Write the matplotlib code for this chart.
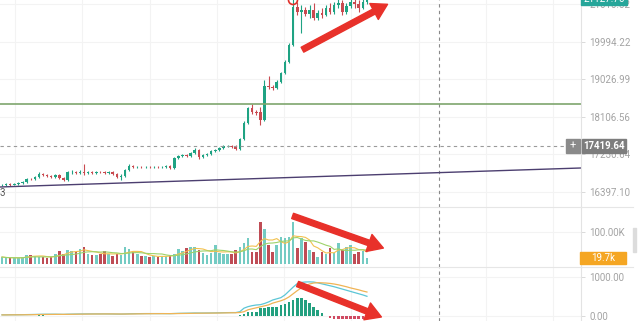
import matplotlib
matplotlib.use("Agg")
import matplotlib.pyplot as plt
import matplotlib.transforms as mtransforms
from matplotlib.patches import Rectangle, Circle, FancyArrowPatch
import numpy as np
import pandas as pd

# --- data ---
opens = [16548, 16552, 16571, 16550, 16571, 16593, 16615, 16681, 16675, 16726,
         16792, 16770, 16748, 16726, 16770, 16703, 16659, 16836, 16840, 16814,
         16836, 16814, 16836, 16814, 16836, 16832, 16814, 16836, 16792, 16726,
         16748, 16881, 16971, 16948, 16952, 16948, 16955, 16948, 16952, 16945,
         16950, 16971, 16926, 17152, 17197, 17219, 17197, 17265, 17333, 17174,
         17219, 17242, 17310, 17333, 17379, 17426, 17430, 17402, 17356, 17587,
         17963, 18322, 18226, 18226, 18034, 18864, 18839, 18814, 18964, 19192,
         19473, 19916, 20942, 20804, 20859, 20748, 20859, 20640, 20776, 20721,
         20914, 20804, 20997, 21053, 20804, 20969, 21081, 21025, 20914, 21081]
closes = [16552, 16571, 16550, 16571, 16593, 16615, 16681, 16675, 16726, 16792,
          16770, 16748, 16726, 16770, 16703, 16659, 16836, 16840, 16814, 16836,
          16814, 16836, 16814, 16836, 16832, 16814, 16836, 16792, 16726, 16748,
          16881, 16971, 16948, 16952, 16948, 16955, 16948, 16952, 16945, 16950,
          16971, 16926, 17152, 17197, 17219, 17197, 17265, 17333, 17174, 17219,
          17242, 17310, 17333, 17379, 17426, 17430, 17402, 17356, 17587, 17963,
          18322, 18226, 18202, 18034, 18864, 18839, 18814, 18964, 19192, 19473,
          19916, 20942, 20804, 20859, 20748, 20859, 20640, 20776, 20721, 20914,
          20804, 20997, 21053, 20804, 20969, 21081, 21025, 20914, 21081, 21136]
highs = [16571, 16593, 16593, 16593, 16615, 16637, 16703, 16703, 16748, 16836,
         16814, 16792, 16770, 16792, 16792, 16726, 16859, 16881, 16859, 16881,
         17016, 16859, 16859, 16859, 16859, 16859, 16859, 16859, 16814, 16792,
         16903, 17016, 16993, 16971, 16971, 16971, 16971, 16971, 16971, 16971,
         16993, 16993, 17174, 17219, 17242, 17242, 17288, 17379, 17356, 17242,
         17265, 17333, 17356, 17402, 17449, 17449, 17449, 17449, 17610, 18010,
         18346, 18420, 18274, 18346, 19014, 19115, 18889, 19014, 19217, 19524,
         19969, 21276, 21081, 20997, 20942, 20997, 21053, 20859, 20914, 20997,
         21053, 21081, 21220, 21136, 21053, 21220, 21164, 21136, 21248, 21276]
lows = [16528, 16528, 16528, 16540, 16550, 16571, 16593, 16659, 16659, 16703,
        16748, 16726, 16703, 16703, 16681, 16637, 16637, 16792, 16792, 16792,
        16770, 16792, 16792, 16792, 16814, 16792, 16792, 16770, 16703, 16659,
        16726, 16859, 16926, 16926, 16926, 16926, 16926, 16930, 16926, 16926,
        16926, 16903, 16903, 17130, 17174, 17174, 17174, 17242, 17130, 17152,
        17197, 17219, 17288, 17310, 17356, 17402, 17379, 17333, 17333, 17564,
        17940, 18178, 18154, 17916, 18010, 18789, 18764, 18789, 18939, 19165,
        19447, 19890, 20721, 20233, 20694, 20640, 20585, 20585, 20640, 20694,
        20748, 20748, 20914, 20721, 20748, 20914, 20914, 20804, 20886, 21025]

volume_k = [21.9, 18.8, 18.8, 18.8, 18.8, 21.9, 28.1, 28.1, 25.0, 21.9,
            21.9, 18.8, 21.9, 31.3, 40.6, 31.3, 43.8, 40.6, 37.5, 46.9,
            53.1, 31.3, 28.1, 28.1, 31.3, 40.6, 31.3, 25.0, 31.3, 28.1,
            53.1, 46.9, 37.5, 31.3, 25.0, 25.0, 21.9, 25.0, 21.9, 25.0,
            25.0, 28.1, 31.3, 46.9, 40.6, 50.0, 53.1, 53.1, 43.8, 34.4,
            28.1, 34.4, 59.4, 34.4, 31.3, 31.3, 31.3, 43.8, 53.1, 65.6,
            81.3, 37.5, 37.5, 131.3, 109.4, 59.4, 37.5, 59.4, 84.4, 81.3,
            84.4, 131.3, 50.0, 81.3, 68.8, 43.8, 37.5, 21.9, 37.5, 31.3,
            50.0, 34.4, 65.6, 43.8, 53.1, 59.4, 31.3, 37.5, 40.6, 19.7]

macd_dif = [30, 30, 32, 32, 33, 34, 36, 38, 40, 43,
            45, 46, 46, 46, 44, 42, 46, 48, 50, 52,
            53, 54, 54, 54, 54, 54, 53, 52, 50, 49,
            52, 56, 58, 60, 61, 62, 62, 62, 62, 62,
            61, 60, 64, 68, 70, 72, 74, 77, 76, 76,
            77, 78, 80, 82, 85, 87, 88, 88,
            110, 200, 240, 265, 282, 290, 320, 360, 410, 440, 470, 540, 640, 740,
            830, 860, 872, 875, 870, 850, 825, 800, 775, 750, 720, 690, 660, 630,
            600, 570, 540, 505]
macd_dea = [28, 28, 29, 30, 30, 31, 32, 33, 35, 37,
            39, 40, 41, 42, 42, 42, 43, 44, 46, 48,
            49, 50, 51, 52, 52, 53, 53, 53, 52, 51,
            51, 52, 53, 55, 56, 58, 59, 60, 60, 61,
            61, 61, 62, 63, 65, 66, 68, 70, 72, 73,
            74, 75, 76, 77, 79, 81, 83, 84,
            90, 110, 160, 185, 210, 235, 260, 285, 330, 360, 390, 430, 490, 570,
            650, 720, 780, 820, 845, 855, 850, 845, 835, 820, 800, 775, 750, 720,
            695, 670, 640, 615]
macd_hist = [8, -5, 6, 8, -6, 5, 10, 12, 12, 15,
             14, 10, -6, -8, -10, -12, 8, 10, 12, 10,
             8, 8, -5, 6, -5, 5, -6, -8, -10, -8,
             6, 10, 8, 8, 6, 5, -5, 4, -4, 5,
             -5, -6, 8, 10, 10, 8, 10, 12, -6, 5,
             6, 6, 8, 10, 10, 8, -5, -6,
             30, 60, 90, 100, 95, 200, 215, 220, 225, 230, 290, 320, 360, 420,
             460, 460, 410, 330, 240, 150, 80, 10, -60, -70, -75, -75, -78, -78,
             -75, -78, -78, -75]

price_ticks = [16397.10, 17230.64, 18106.56, 19026.99, 19994.22, 21010.82]
support_level = 18420
last_price = 17419.64
trend_x = [-0.49, 141.2]
trend_y = [16506, 16926]
crosshair_x = 106.6
last_volume_label = "19.7k"

# --- layout (pixel based, 640x321) ---
W, H = 640, 321
fig = plt.figure(figsize=(W / 100, H / 100), dpi=100)
plt.rcParams['font.family'] = ['Roboto', 'DejaVu Sans']
# pixel coords with origin at the top-left corner
PX = mtransforms.Affine2D().scale(1 / W, -1 / H).translate(0, 1) + fig.transFigure

def px_axes(x0, y0, x1, y1):
    return fig.add_axes([x0 / W, 1 - y1 / H, (x1 - x0) / W, (y1 - y0) / H])

ax_p = px_axes(0, 0, 581, 207)
ax_v = px_axes(0, 207, 581, 267)
ax_m = px_axes(0, 267, 581, 321)

GREEN = '#1fa383'
RED = '#c94a50'
VGREEN = '#74cbc3'
VRED = '#bf4c55'
LABEL = '#a3a3a3'
xs = np.arange(len(closes))
up = np.array(closes) >= np.array(opens)
grid_x = np.arange(3.2, 141, 16.4)

for ax in (ax_p, ax_v, ax_m):
    ax.set_xlim(-0.49, 141.2)
    for s in ('top', 'left', 'bottom'):
        ax.spines[s].set_visible(False)
    ax.spines['right'].set_color('#e3e3e3')
    ax.set_xticks(grid_x)
    ax.tick_params(axis='x', length=0, labelbottom=False)
    ax.yaxis.tick_right()
    ax.tick_params(axis='y', direction='out', length=3, width=0.6, color='#d5d5d5',
                   labelcolor=LABEL, labelsize=7, pad=3)
    ax.grid(True, color='#f3f3f3', linewidth=0.8)
    ax.set_axisbelow(True)
    ax.axvline(crosshair_x, color='#8a8a8a', linestyle=(0, (3, 3)), linewidth=0.8)

# price panel
ax_p.set_yscale('log')
ax_p.set_ylim(16075, 21136)
ax_p.set_yticks(price_ticks)
ax_p.set_yticklabels([f"{t:.2f}" for t in price_ticks])
ax_p.yaxis.set_minor_locator(matplotlib.ticker.NullLocator())
ax_p.vlines(xs, lows, highs, color=np.where(up, GREEN, RED), linewidth=0.8)
body_lo = np.minimum(opens, closes)
body_h = np.maximum(np.abs(np.array(closes) - np.array(opens)), 6)
ax_p.bar(xs, body_h, bottom=body_lo, width=0.62, color=np.where(up, GREEN, RED))
ax_p.axhline(support_level, color='#7ea66d', linewidth=1.2)
ax_p.axhline(last_price, color='#9a9a9a', linestyle=(0, (3, 3)), linewidth=0.8)
ax_p.plot(trend_x, trend_y, color='#4c3f70', linewidth=1.0)

# volume panel
vol = np.array(volume_k) * 1000
ax_v.set_ylim(-9375, 178125)
ax_v.set_yticks([100000])
ax_v.set_yticklabels(["100.00K"])
ax_v.bar(xs, vol, width=0.62, color=np.where(up, VGREEN, VRED))
vs = pd.Series(vol)
ax_v.plot(xs, vs.rolling(5, min_periods=1).mean(), color='#f2c14e', linewidth=0.8)
ax_v.plot(xs, vs.rolling(10, min_periods=1).mean(), color='#9ed36a', linewidth=0.8)

# macd panel
ax_m.set_ylim(-128, 1256)
ax_m.set_yticks([0, 1000])
ax_m.set_yticklabels(["0.00", "1000.00"])
hist = np.array(macd_hist)
ax_m.bar(xs, hist, width=0.62, color=np.where(hist >= 0, '#23a07f', '#d04a62'))
ax_m.plot(xs, macd_dif, color='#5cc6d6', linewidth=0.9)
ax_m.plot(xs, macd_dea, color='#f0b455', linewidth=0.9)

# panel separators / scrollbar
for y in (207, 267):
    fig.add_artist(plt.Line2D([0, 633], [y, y], transform=PX, color='#e6e6e6', linewidth=0.8))
fig.add_artist(Rectangle((633, 228), 3, 24, transform=PX, color='#dcdcdc'))

# price labels on the axis
fig.add_artist(Rectangle((581, -6), 46, 11, transform=PX, color='#26a69a', zorder=5))
fig.text(604, -1, "21127.76", transform=PX, color='white', fontsize=7,
         ha='center', va='center', zorder=6)
fig.add_artist(Rectangle((566, 139), 14, 14, transform=PX, color='#8a8a8a', zorder=5))
fig.text(573, 146, "+", transform=PX, color='white', fontsize=8, ha='center', va='center', zorder=6)
fig.add_artist(Rectangle((582, 139), 44, 14, transform=PX, color='#7d7d7d', zorder=5))
fig.text(604, 146, f"{last_price:.2f}", transform=PX, color='white', fontsize=7,
         fontweight='bold', ha='center', va='center', zorder=6)
fig.add_artist(Rectangle((580, 252), 46, 12, transform=PX, color='#f5a623', zorder=5))
fig.text(603, 258, last_volume_label, transform=PX, color='white', fontsize=7,
         ha='center', va='center', zorder=6)
fig.text(0, 193, "3", transform=PX, color='#555555', fontsize=7, ha='left', va='center')

# hand-drawn annotations, drawn on top of all panels
fig.add_artist(Circle((293, 0), 4.5, transform=PX, fill=False, edgecolor='#e0302a',
                      linewidth=1.2, zorder=10))
for tail, head in [((300, 51), (390, 3)), ((290, 215), (386, 249)), ((295, 283), (384, 318))]:
    fig.add_artist(FancyArrowPatch(tail, head, transform=PX, color='#e8312a', zorder=10,
                                   arrowstyle="simple,head_width=1.3,head_length=1.1,tail_width=0.4",
                                   mutation_scale=10))

fig.savefig("out.png", dpi=100)
